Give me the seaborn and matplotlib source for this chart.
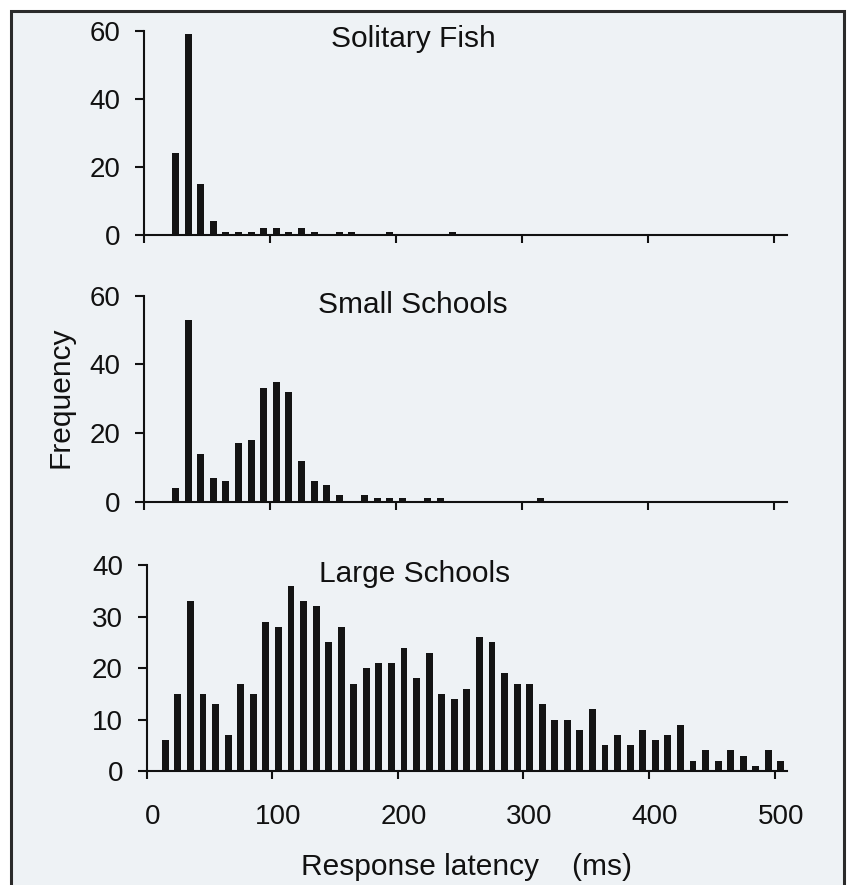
import numpy as np
import pandas as pd
import matplotlib
matplotlib.use("Agg")
import matplotlib.pyplot as plt
import seaborn as sns
from matplotlib.patches import Rectangle
from matplotlib.transforms import ScaledTranslation

# ---------------- data (bin centres, ms) ----------------
latency = [15, 25, 35, 45, 55, 65, 75, 85, 95, 105,
           115, 125, 135, 145, 155, 165, 175, 185, 195, 205,
           215, 225, 235, 245, 255, 265, 275, 285, 295, 305,
           315, 325, 335, 345, 355, 365, 375, 385, 395, 405,
           415, 425, 435, 445, 455, 465, 475, 485, 495, 505]

solitary = [0, 24, 59, 15, 4, 1, 1, 1, 2, 2,
            1, 2, 1, 0, 1, 1, 0, 0, 1, 0,
            0, 0, 0, 1, 0, 0, 0, 0, 0, 0,
            0, 0, 0, 0, 0, 0, 0, 0, 0, 0,
            0, 0, 0, 0, 0, 0, 0, 0, 0, 0]

small = [0, 4, 53, 14, 7, 6, 17, 18, 33, 35,
         32, 12, 6, 5, 2, 0, 2, 1, 1, 1,
         0, 1, 1, 0, 0, 0, 0, 0, 0, 0,
         1, 0, 0, 0, 0, 0, 0, 0, 0, 0,
         0, 0, 0, 0, 0, 0, 0, 0, 0, 0]

large = [6, 15, 33, 15, 13, 7, 17, 15, 29, 28,
         36, 33, 32, 25, 28, 17, 20, 21, 21, 24,
         18, 23, 15, 14, 16, 26, 25, 19, 17, 17,
         13, 10, 10, 8, 12, 5, 7, 5, 8, 6,
         7, 9, 2, 4, 2, 4, 3, 1, 4, 2]

titles = ["Solitary Fish", "Small Schools", "Large Schools"]
series = [solitary, small, large]
yticks = [[0, 20, 40, 60], [0, 20, 40, 60], [0, 10, 20, 30, 40]]
xticks = [0, 100, 200, 300, 400, 500]

# ---------------- style ----------------
sns.set_style("ticks")
plt.rcParams["font.family"] = ["Liberation Sans", "DejaVu Sans"]

W, H = 847, 885
fig = plt.figure(figsize=(W / 100, H / 100), dpi=100)
fig.patch.set_facecolor("white")

# scanned page frame
fig.add_artist(Rectangle((10.5 / W, -0.02), (844 - 10.5) / W, (1 - 11 / H) + 0.02,
                         transform=fig.transFigure, facecolor="#eef2f5",
                         edgecolor="#2b2b2b", linewidth=2.2, zorder=-10))


def rect(x0, x1, ytop, ybot):
    return [x0 / W, 1 - ybot / H, (x1 - x0) / W, (ybot - ytop) / H]


rects = [rect(144, 786.6, 30.7, 235),
         rect(144, 786.6, 295.7, 501.7),
         rect(146.5, 787.2, 565.3, 771)]
title_y = [0.92, 0.915, 0.92]

axes = []
for i, (r, vals) in enumerate(zip(rects, series)):
    ax = fig.add_axes(r)
    ax.set_facecolor("none")
    df = pd.DataFrame({"latency": latency, "count": vals})
    sns.barplot(data=df, x="latency", y="count", native_scale=True,
                width=0.55, color="#141414", saturation=1,
                errorbar=None, linewidth=0, ax=ax)
    ax.set_xlim(0, 510)
    ax.set_ylim(0, yticks[i][-1])
    ax.set_xticks(xticks)
    ax.set_yticks(yticks[i])
    ax.set_xlabel("")
    ax.set_ylabel("")
    sns.despine(ax=ax)
    for s in ["left", "bottom"]:
        ax.spines[s].set_linewidth(1.5)
        ax.spines[s].set_color("#111111")
    ax.tick_params(axis="y", direction="out", length=6.5, width=1.5,
                   pad=10.5, labelsize=20, colors="#111111")
    ax.tick_params(axis="x", direction="out", length=6, width=1.5,
                   pad=18, labelsize=20, colors="#111111")
    if i < 2:
        ax.tick_params(axis="x", labelbottom=False)
    ax.grid(False)
    ax.text(0.419, title_y[i], titles[i], transform=ax.transAxes,
            ha="center", va="baseline", fontsize=21.5, color="#111111")
    axes.append(ax)

offset = ScaledTranslation(6 / 100, 0, fig.dpi_scale_trans)
for lab in axes[2].get_xticklabels():
    lab.set_transform(lab.get_transform() + offset)

fig.text(60 / W, 1 - 397 / H, "Frequency", rotation=90, ha="center",
         va="center", fontsize=21.5, color="#111111")
fig.text(466 / W, 1 - 875 / H, "Response latency    (ms)", ha="center",
         va="baseline", fontsize=21.5, color="#111111")

fig.savefig("out.png", dpi=100, facecolor=fig.get_facecolor())
